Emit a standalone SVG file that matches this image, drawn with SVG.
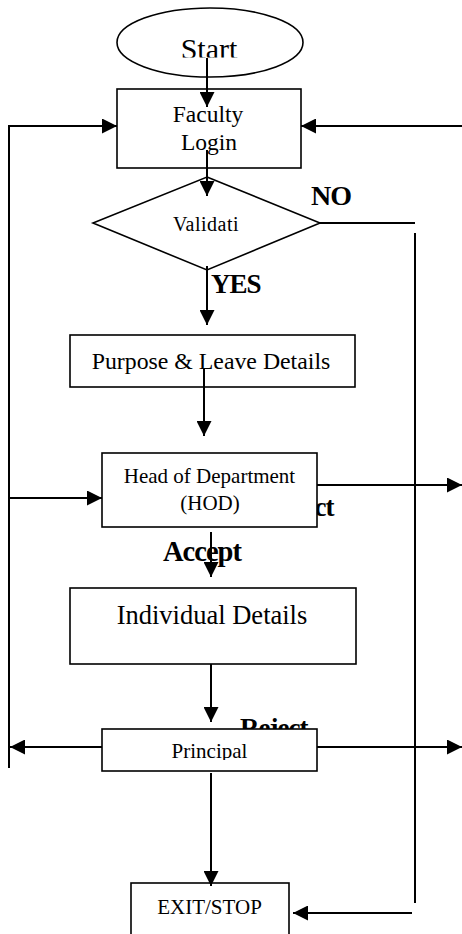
<svg xmlns="http://www.w3.org/2000/svg" width="462" height="934" viewBox="0 0 462 934">
<style>
.box{fill:#fff;stroke:#000;stroke-width:1.6}
.t{font-family:"Liberation Serif","Times New Roman",serif;fill:#000;text-anchor:middle}
.lbl{font-family:"Liberation Serif","Times New Roman",serif;font-weight:bold;fill:#000;letter-spacing:-1px}
.c{fill:none;stroke:#000;stroke-width:2}
</style>
<defs>
<marker id="ah" markerUnits="userSpaceOnUse" markerWidth="15" markerHeight="15" refX="15" refY="7.5" orient="auto">
<path d="M0,0 L15,7.5 L0,15 z" fill="#000"/>
</marker>
<clipPath id="clipStart"><rect x="100" y="0" width="220" height="57.5"/></clipPath>
<clipPath id="clipPrin"><rect x="100" y="728" width="220" height="32"/></clipPath>
</defs>
<rect width="462" height="934" fill="#fff"/>
<g id="labels-under">
<text class="lbl" x="266" y="516" font-size="27">Reject</text>
<text class="lbl" x="240" y="737" font-size="27" letter-spacing="-0.5">Reject</text>
</g>
<g id="start">
<ellipse class="box" cx="210" cy="42.5" rx="93" ry="34.5"/>
<text class="t" x="209" y="58.5" font-size="30" clip-path="url(#clipStart)">Start</text>
</g>
<g id="faculty-login">
<rect class="box" x="117" y="89" width="184" height="79"/>
<text class="t" x="208" y="122" font-size="23.5">Faculty</text>
<text class="t" x="209" y="150" font-size="23.5">Login</text>
</g>
<g id="validation">
<polygon class="box" points="207,177 320,223 207,270 93,223"/>
<text class="t" x="206" y="231" font-size="20" letter-spacing="0.5">Validati</text>
</g>
<g id="purpose">
<rect class="box" x="70" y="335" width="285" height="52"/>
<text class="t" x="211" y="369" font-size="23.8">Purpose &amp; Leave Details</text>
</g>
<g id="hod">
<rect class="box" x="102" y="453" width="215" height="74"/>
<text class="t" x="209.5" y="483" font-size="21">Head of Department</text>
<text class="t" x="210" y="510" font-size="21">(HOD)</text>
</g>
<g id="individual">
<rect class="box" x="70" y="588" width="286" height="76"/>
<text class="t" x="212" y="624" font-size="26.5">Individual Details</text>
</g>
<g id="principal">
<rect class="box" x="102" y="729" width="215" height="42"/>
<text class="t" x="209.5" y="758" font-size="21" clip-path="url(#clipPrin)">Principal</text>
</g>
<g id="exit">
<rect class="box" x="131" y="883" width="158" height="60"/>
<text class="t" x="209.5" y="914" font-size="21">EXIT/STOP</text>
</g>
<g id="connectors">
<line class="c" x1="207" y1="58" x2="207" y2="107" marker-end="url(#ah)"/>
<line class="c" x1="207" y1="150" x2="207" y2="196" marker-end="url(#ah)"/>
<line class="c" x1="320" y1="223" x2="415" y2="223"/>
<line class="c" x1="415" y1="233" x2="415" y2="903"/>
<line class="c" x1="412" y1="913" x2="293" y2="913" marker-end="url(#ah)"/>
<line class="c" x1="207" y1="266" x2="207" y2="325" marker-end="url(#ah)"/>
<line class="c" x1="204" y1="369" x2="204" y2="436" marker-end="url(#ah)"/>
<line class="c" x1="211" y1="532" x2="211" y2="577" marker-end="url(#ah)"/>
<line class="c" x1="211" y1="664" x2="211" y2="722" marker-end="url(#ah)"/>
<line class="c" x1="211" y1="773" x2="211" y2="886" marker-end="url(#ah)"/>
<line class="c" x1="9" y1="125" x2="9" y2="768"/>
<line class="c" x1="8" y1="126" x2="117" y2="126" marker-end="url(#ah)"/>
<line class="c" x1="8" y1="498" x2="102" y2="498" marker-end="url(#ah)"/>
<line class="c" x1="102" y1="747" x2="10" y2="747" marker-end="url(#ah)"/>
<line class="c" x1="462" y1="126" x2="301" y2="126" marker-end="url(#ah)"/>
<line class="c" x1="317" y1="485" x2="462" y2="485" marker-end="url(#ah)"/>
<line class="c" x1="317" y1="747" x2="462" y2="747" marker-end="url(#ah)"/>
</g>
<g id="labels">
<text class="lbl" x="311" y="205" font-size="28">NO</text>
<text class="lbl" x="211" y="293" font-size="27">YES</text>
<text class="lbl" x="163" y="561" font-size="28.5" letter-spacing="0">Accept</text>
</g>
</svg>
